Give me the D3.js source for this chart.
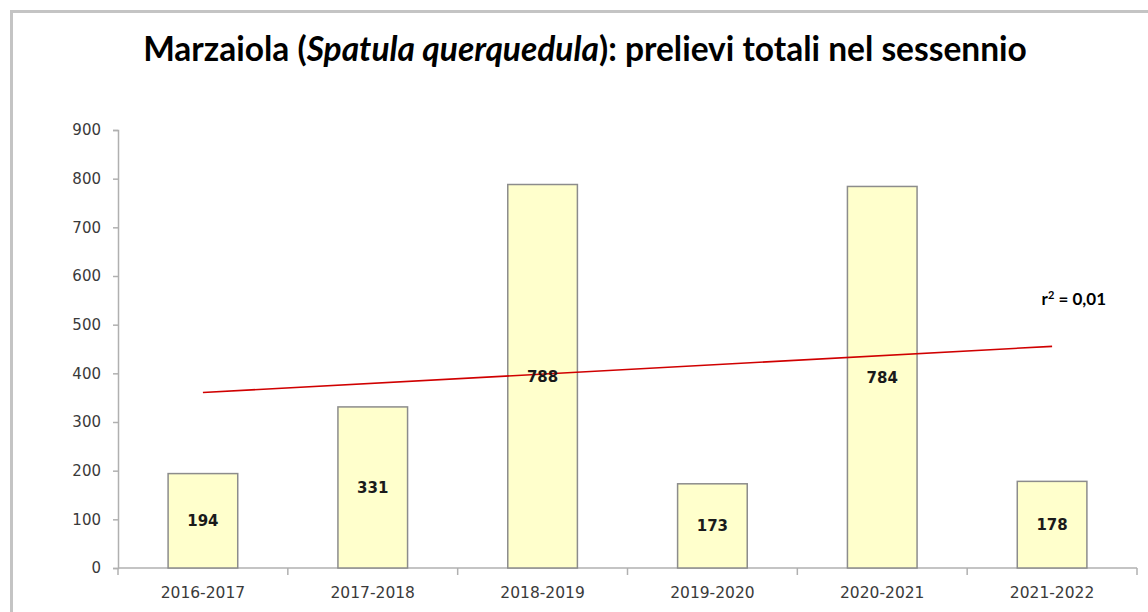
<!DOCTYPE html>
<html>
<head>
<meta charset="utf-8">
<script src="https://cdn.jsdelivr.net/npm/d3@7"></script>
<style>
  html, body { margin: 0; padding: 0; background: #fff; }
  svg { display: block; }
</style>
</head>
<body>
<div id="chart"></div>
<script>
// ---- data ----
var seasons = ["2016-2017", "2017-2018", "2018-2019", "2019-2020", "2020-2021", "2021-2022"];
var totals = [194, 331, 788, 173, 784, 178];
var yTicks = [0, 100, 200, 300, 400, 500, 600, 700, 800, 900];
var r2Label = "0,01";

// ---- layout ----
var svgWidth = 1148, svgHeight = 612;
var margin = { top: 130, right: 11, bottom: 44, left: 118 };
var width = svgWidth - margin.left - margin.right;
var height = svgHeight - margin.top - margin.bottom;

var svg = d3.select("#chart").append("svg")
  .attr("width", svgWidth)
  .attr("height", svgHeight);

// outer frame (only left and top edges are visible in the picture)
svg.append("rect")
  .attr("x", 11.5).attr("y", 11.5)
  .attr("width", svgWidth + 20).attr("height", svgHeight + 20)
  .attr("fill", "#fff")
  .attr("stroke", "#c4c4c4")
  .attr("stroke-width", 3);

// title
var title = svg.append("text")
  .attr("x", 585).attr("y", 61)
  .attr("text-anchor", "middle")
  .style("font-family", "Lato, 'Open Sans', sans-serif")
  .style("font-weight", "bold")
  .style("font-size", "28px")
  .attr("fill", "#000");
title.append("tspan").text("Marzaiola (");
title.append("tspan").style("font-style", "italic").text("Spatula querquedula");
title.append("tspan").text("): prelievi totali nel sessennio");
// fit title to the width it has in the reference
var tw = title.node().getComputedTextLength();
title.style("font-size", (28 * 884 / tw) + "px");

var g = svg.append("g")
  .attr("transform", "translate(" + margin.left + "," + margin.top + ")");

// scales
var x = d3.scaleBand().domain(seasons).range([0, width]).paddingInner(0.59).paddingOuter(0.295);
var xCat = d3.scaleBand().domain(seasons).range([0, width]);
var y = d3.scaleLinear().domain([0, 900]).range([height, 0]);

// y axis
var yAxis = g.append("g")
  .call(d3.axisLeft(y).tickValues(yTicks).tickSize(5).tickPadding(12));
yAxis.select(".domain").attr("stroke", "#b0b0b0").attr("stroke-width", 1.5);
yAxis.selectAll(".tick line").attr("stroke", "#b0b0b0").attr("stroke-width", 1.5);
yAxis.selectAll(".tick text")
  .style("font-family", "'DejaVu Sans', Verdana, sans-serif")
  .style("font-size", "15px")
  .attr("fill", "#3a3a3a");

// x axis with ticks between categories
var xAxis = g.append("g").attr("transform", "translate(0," + height + ")");
xAxis.append("line")
  .attr("x1", 0).attr("x2", width)
  .attr("stroke", "#b0b0b0").attr("stroke-width", 1.5);
xAxis.selectAll("line.sep")
  .data(seasons.concat(["end"]))
  .enter().append("line")
  .attr("class", "sep")
  .attr("x1", function(d, i) { return i * xCat.step(); })
  .attr("x2", function(d, i) { return i * xCat.step(); })
  .attr("y1", 0).attr("y2", 7)
  .attr("stroke", "#b0b0b0").attr("stroke-width", 1.5);
xAxis.selectAll("text")
  .data(seasons)
  .enter().append("text")
  .attr("x", function(d) { return xCat(d) + xCat.bandwidth() / 2; })
  .attr("y", 30)
  .attr("text-anchor", "middle")
  .style("font-family", "'DejaVu Sans', Verdana, sans-serif")
  .style("font-size", "15.5px")
  .attr("fill", "#3a3a3a")
  .text(function(d) { return d; });

// bars
g.selectAll("rect.bar")
  .data(totals)
  .enter().append("rect")
  .attr("class", "bar")
  .attr("x", function(d, i) { return x(seasons[i]); })
  .attr("y", function(d) { return y(d); })
  .attr("width", x.bandwidth())
  .attr("height", function(d) { return height - y(d); })
  .attr("fill", "#ffffcc")
  .attr("stroke", "#8c8c8c")
  .attr("stroke-width", 1.5);

// linear trend (least squares on season index)
var n = totals.length;
var xs = d3.range(1, n + 1);
var mx = d3.mean(xs), my = d3.mean(totals);
var sxy = d3.sum(xs, function(v, i) { return (v - mx) * (totals[i] - my); });
var sxx = d3.sum(xs, function(v) { return (v - mx) * (v - mx); });
var slope = sxy / sxx, icpt = my - slope * mx;
var trend = [xs[0], xs[n - 1]].map(function(v) { return [v, icpt + slope * v]; });

g.append("path")
  .datum(trend)
  .attr("fill", "none")
  .attr("stroke", "#d00000")
  .attr("stroke-width", 1.6)
  .attr("d", d3.line()
    .x(function(d) { return x(seasons[d[0] - 1]) + x.bandwidth() / 2; })
    .y(function(d) { return y(d[1]); }));

// value labels inside bars
g.selectAll("text.val")
  .data(totals)
  .enter().append("text")
  .attr("class", "val")
  .attr("x", function(d, i) { return x(seasons[i]) + x.bandwidth() / 2; })
  .attr("y", function(d) { return (y(d) + height) / 2 + 1; })
  .attr("text-anchor", "middle")
  .attr("dominant-baseline", "middle")
  .style("font-family", "'DejaVu Sans', Verdana, sans-serif")
  .style("font-weight", "bold")
  .style("font-size", "15px")
  .attr("fill", "#1a1a1a")
  .text(function(d) { return d; });

// r² label
var r2 = svg.append("text")
  .attr("x", 1106).attr("y", 305)
  .attr("text-anchor", "end")
  .style("font-family", "Lato, 'Open Sans', sans-serif")
  .style("font-weight", "bold")
  .style("font-size", "17px")
  .attr("fill", "#000");
r2.append("tspan").text("r");
r2.append("tspan").attr("dy", -6).style("font-size", "11px").text("2");
r2.append("tspan").attr("dy", 6).text(" = " + r2Label);
</script>
</body>
</html>
